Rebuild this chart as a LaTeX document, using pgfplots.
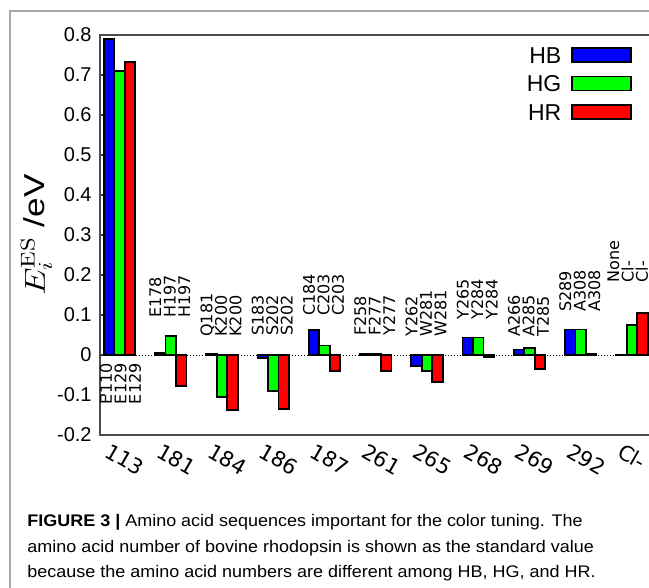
\documentclass[border=0pt]{standalone}
\usepackage{pgfplots}
\pgfplotsset{compat=1.18}
\usepackage[no-math]{fontspec}
\setmainfont{Liberation Sans}
\newfontfamily\dejavu{DejaVu Sans}
\newfontfamily\capfont{Liberation Sans}[FakeStretch=1.07]
\definecolor{HBc}{RGB}{0,0,255}
\definecolor{HGc}{RGB}{0,255,0}
\definecolor{HRc}{RGB}{255,0,0}
\begin{document}
\begin{tikzpicture}
\begin{scope}[x=0.5pt,y=-0.5pt]
\draw[black!35, line width=1.1pt] (10,640) -- (10,11) -- (700,11);
\end{scope}
\begin{axis}[
  at={(50pt,-217.5pt)}, anchor=south west,
  x=25.625pt, y=200pt,
  xmin=-0.38, xmax=10.45, ymin=-0.2, ymax=0.8,
  axis line style={draw=black!70, line width=0.8pt},
  tick align=inside,
  ytick={-0.2,-0.1,0,0.1,0.2,0.3,0.4,0.5,0.6,0.7,0.8},
  yticklabels={-0.2,-0.1,0,0.1,0.2,0.3,0.4,0.5,0.6,0.7,0.8},
  ytick pos=left,
  ytick style={draw=black!75, line width=0.6pt},
  major tick length=2.5pt,
  yticklabel style={font=\fontsize{10}{12}\selectfont, inner sep=0pt, xshift=-4pt},
  xtick={0,1,2,3,4,5,6,7,8,9,10},
  xticklabels={113,181,184,186,187,261,265,268,269,292,Cl-},
  xtick style={draw=none},
  xticklabel style={font=\dejavu\fontsize{10.5}{12}\selectfont, inner sep=0pt, xshift=-4pt, yshift=-3.5pt, rotate=-30, anchor=north west},
  extra y ticks={0},
  extra y tick labels={},
  extra y tick style={grid=major, major grid style={black, line width=0.5pt, dash pattern=on 0.6pt off 0.9pt}, major tick length=0pt},
  legend plot pos=right,
  legend cell align=right,
  legend style={at={(0.9586,0.9708)}, anchor=north east, draw=none, fill=none, inner sep=0pt, outer sep=0pt,
    font=\fontsize{11.5}{13}\selectfont, row sep=6pt, column sep=5pt,
    nodes={inner sep=0pt, text height=8.25pt, text depth=0pt}},
]
\addplot[ybar, bar width=5.25pt, bar shift=-5.25pt, fill=HBc, draw=black, line width=0.9pt,
  legend image code/.code={\draw[fill=HBc, draw=black, line width=0.9pt] (0pt,-3.5pt) rectangle (29.5pt,3.5pt);}]
  coordinates {(0,0.790) (1,0.005) (2,0.003) (3,-0.008) (4,0.062) (5,0.002) (6,-0.0275) (7,0.044) (8,0.014) (9,0.064) (10,0.001)};
\addlegendentry{HB}
\addplot[ybar, bar width=5.25pt, bar shift=0pt, fill=HGc, draw=black, line width=0.9pt,
  legend image code/.code={\draw[fill=HGc, draw=black, line width=0.9pt] (0pt,-3.5pt) rectangle (29.5pt,3.5pt);}]
  coordinates {(0,0.711) (1,0.048) (2,-0.104) (3,-0.089) (4,0.024) (5,0.004) (6,-0.040) (7,0.044) (8,0.017) (9,0.064) (10,0.075)};
\addlegendentry{HG}
\addplot[ybar, bar width=5.25pt, bar shift=5.25pt, fill=HRc, draw=black, line width=0.9pt,
  legend image code/.code={\draw[fill=HRc, draw=black, line width=0.9pt] (0pt,-3.5pt) rectangle (29.5pt,3.5pt);}]
  coordinates {(0,0.732) (1,-0.078) (2,-0.137) (3,-0.135) (4,-0.040) (5,-0.039) (6,-0.068) (7,-0.004) (8,-0.035) (9,0.004) (10,0.106)};
\addlegendentry{HR}
\tikzset{reslab/.style={rotate=90, inner sep=0pt, font=\dejavu\fontsize{8}{7.25}\selectfont}}
\node[reslab, anchor=east, align=right] at (axis cs:0.02,-0.02) {E110\\E129\\E129};
\node[reslab, anchor=west, align=left] at (axis cs:0.98,0.0925) {E178\\H197\\H197};
\node[reslab, anchor=west, align=left] at (axis cs:1.98,0.045) {Q181\\K200\\K200};
\node[reslab, anchor=west, align=left] at (axis cs:2.98,0.0475) {S183\\S202\\S202};
\node[reslab, anchor=west, align=left] at (axis cs:3.98,0.0975) {C184\\C203\\C203};
\node[reslab, anchor=west, align=left] at (axis cs:4.98,0.0475) {F258\\F277\\Y277};
\node[reslab, anchor=west, align=left] at (axis cs:5.98,0.045) {Y262\\W281\\W281};
\node[reslab, anchor=west, align=left] at (axis cs:6.98,0.0875) {Y265\\Y284\\Y284};
\node[reslab, anchor=west, align=left] at (axis cs:7.98,0.045) {A266\\A285\\T285};
\node[reslab, anchor=west, align=left] at (axis cs:8.98,0.1075) {S289\\A308\\A308};
\node[reslab, anchor=west, align=left, font=\dejavu\fontsize{8}{5.4}\selectfont] at (axis cs:9.92,0.18) {None\\Cl-\\Cl-};
\end{axis}
\begin{scope}[x=0.5pt,y=-0.5pt]
\node[rotate=90, anchor=base, inner sep=0pt] at (45,235) {\fontsize{14.4}{17}\selectfont\scalebox{1.22}[1]{$E_i^{\mathrm{ES}}$ /eV}};
\node[anchor=base west, inner sep=0pt] at (27,527) {\capfont\fontsize{8.4}{9}\selectfont\textbf{FIGURE 3 |} Amino acid sequences important for the color tuning. The};
\node[anchor=base west, inner sep=0pt] at (27,552.5) {\capfont\fontsize{8.4}{9}\selectfont amino acid number of bovine rhodopsin is shown as the standard value};
\node[anchor=base west, inner sep=0pt] at (27,578) {\capfont\fontsize{8.4}{9}\selectfont because the amino acid numbers are different among HB, HG, and HR.};
\pgfresetboundingbox
\path[use as bounding box] (0,0) rectangle (649,588);
\end{scope}
\end{tikzpicture}
\end{document}
